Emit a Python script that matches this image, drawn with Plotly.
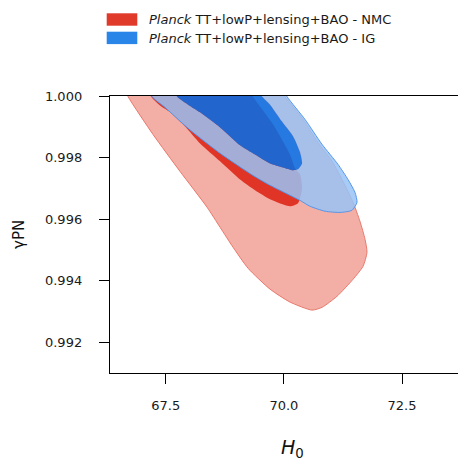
import plotly.graph_objects as go

# ---------------- data (H0, gamma_PN) contour outlines ----------------
nmc_2sig_h0 = [66.533, 66.702, 67.231, 67.803, 68.374, 68.649, 68.924, 69.241, 69.707, 70.130,
               70.596, 70.807, 71.125, 71.463, 71.675, 71.759, 71.717, 71.611, 71.463, 71.251,
               71.019, 70.722, 70.405, 70.024, 69.834]
nmc_2sig_g = [1.00054, 0.99998, 0.99875, 0.99755, 0.99639, 0.99574, 0.99509, 0.99441, 0.99373, 0.99331,
              0.99305, 0.99314, 0.99350, 0.99405, 0.99447, 0.99493, 0.99535, 0.99593, 0.99655, 0.99723,
              0.99788, 0.99849, 0.99924, 0.99998, 1.00054]

nmc_1sig_h0 = [67.062, 67.189, 67.379, 67.591, 67.908, 68.226, 68.649, 69.072, 69.389, 69.707,
               70.130, 70.299, 70.384, 70.342, 70.236, 70.130, 69.770, 69.347, 69.178]
nmc_1sig_g = [1.00054, 0.99998, 0.99969, 0.99947, 0.99901, 0.99846, 0.99788, 0.99729, 0.99694, 0.99665,
              0.99642, 0.99652, 0.99700, 0.99746, 0.99765, 0.99810, 0.99908, 0.99998, 1.00054]

ig_2sig_h0 = [67.062, 67.210, 67.485, 67.951, 68.649, 69.347, 69.707, 70.342, 70.553,
              70.871, 71.188, 71.442, 71.548, 71.505, 71.357, 71.146, 70.807, 70.447, 70.067, 69.876]
ig_2sig_g = [1.00054, 0.99998, 0.99963, 0.99898, 0.99814, 0.99742, 0.99710, 0.99661, 0.99642,
             0.99626, 0.99622, 0.99629, 0.99655, 0.99687, 0.99729, 0.99778, 0.99843, 0.99924, 0.99998, 1.00054]

ig_1sig_h0 = [67.591, 67.739, 67.972, 68.226, 68.649, 69.072, 69.389, 69.707, 69.982, 70.194,
              70.299, 70.384, 70.342, 70.194, 69.961, 69.707, 69.538, 69.326]
ig_1sig_g = [1.00054, 0.99998, 0.99972, 0.99947, 0.99898, 0.99840, 0.99810, 0.99781, 0.99768, 0.99759,
             0.99762, 0.99781, 0.99817, 0.99869, 0.99917, 0.99972, 0.99998, 1.00054]

x_ticks = [67.5, 70.0, 72.5]
x_ticktext = ["67.5", "70.0", "72.5"]
y_ticks = [0.992, 0.994, 0.996, 0.998, 1.000]
y_ticktext = ["0.992", "0.994", "0.996", "0.998", "1.000"]

legend_labels = ["<i>Planck</i> TT+lowP+lensing+BAO - NMC",
                 "<i>Planck</i> TT+lowP+lensing+BAO - IG"]
legend_colors = ["#e03a2a", "#2a85e8"]

# ---------------- figure ----------------
OFF = 8                      # page body margin offset
PAGE_W, PAGE_H = 466, 462
W, H = PAGE_W - OFF, PAGE_H - OFF
L, R, T, B = 110, 466, 96, 373   # plot area in page pixels
FONT = "DejaVu Sans"
SMOOTH = 0.6


def px(x):
    return (x - L) / (R - L)


def py(y):
    return (B - y) / (B - T)


fig = go.Figure()

fig.add_trace(go.Scatter(x=nmc_2sig_h0, y=nmc_2sig_g, mode="lines", fill="toself",
                         fillcolor="#f3aea6", line=dict(color="#e8796c", width=1, shape="spline", smoothing=SMOOTH),
                         hoverinfo="skip", showlegend=False))
fig.add_trace(go.Scatter(x=nmc_1sig_h0, y=nmc_1sig_g, mode="lines", fill="toself",
                         fillcolor="#e03426", line=dict(color="rgba(0,0,0,0)", width=0, shape="spline", smoothing=SMOOTH),
                         hoverinfo="skip", showlegend=False))
band_x = ig_2sig_h0 + ig_1sig_h0[::-1]
band_y = ig_2sig_g + ig_1sig_g[::-1]
fig.add_trace(go.Scatter(x=band_x, y=band_y, mode="lines", fill="toself",
                         fillcolor="rgba(152,195,246,0.85)",
                         line=dict(color="rgba(0,0,0,0)", width=0, shape="spline", smoothing=SMOOTH),
                         hoverinfo="skip", showlegend=False))
fig.add_trace(go.Scatter(x=ig_1sig_h0, y=ig_1sig_g, mode="lines", fill="toself",
                         fillcolor="rgba(0,112,235,0.85)",
                         line=dict(color="rgba(0,0,0,0)", width=0, shape="spline", smoothing=SMOOTH),
                         hoverinfo="skip", showlegend=False))
fig.add_trace(go.Scatter(x=ig_2sig_h0, y=ig_2sig_g, mode="lines",
                         line=dict(color="rgba(80,148,232,0.95)", width=1, shape="spline", smoothing=SMOOTH),
                         hoverinfo="skip", showlegend=False))

shapes = []
annotations = []
patch_tops = [13.3, 31.7]
for lab, col, top in zip(legend_labels, legend_colors, patch_tops):
    shapes.append(dict(type="rect", xref="paper", yref="paper",
                       x0=px(106.7), x1=px(137.3), y0=py(top + 12.4), y1=py(top),
                       fillcolor=col, line=dict(width=0)))
    annotations.append(dict(text=lab, xref="paper", yref="paper", x=px(147), y=py(top + 6.4),
                            xanchor="left", yanchor="middle", showarrow=False,
                            font=dict(family=FONT, size=13, color="#1a1a1a")))

annotations.append(dict(text="<i>H</i><sub>0</sub>", xref="paper", yref="paper",
                        x=px(292), y=py(448), xanchor="center", yanchor="middle", showarrow=False,
                        font=dict(family=FONT, size=19, color="#111111")))
annotations.append(dict(text="γPN", xref="paper", yref="paper", textangle=-90,
                        x=px(19), y=py(235), xanchor="center", yanchor="middle", showarrow=False,
                        font=dict(family=FONT, size=15, color="#111111")))

fig.update_layout(
    width=W, height=H,
    margin=dict(l=L - OFF, r=PAGE_W - R, t=T - OFF, b=PAGE_H - B, pad=0),
    paper_bgcolor="white", plot_bgcolor="white",
    showlegend=False,
    shapes=shapes, annotations=annotations,
    font=dict(family=FONT, size=13, color="#1a1a1a"),
)
fig.update_xaxes(range=[66.32, 73.854], tickvals=x_ticks, ticktext=x_ticktext,
                 ticks="outside", ticklen=10, tickwidth=1.2, tickcolor="black",
                 showline=True, linecolor="black", linewidth=1.4, mirror=True,
                 showgrid=False, zeroline=False, ticklabelstandoff=10,
                 tickfont=dict(family=FONT, size=13, color="#1a1a1a"))
fig.update_yaxes(range=[0.991008, 1.0], tickvals=y_ticks, ticktext=y_ticktext,
                 ticks="outside", ticklen=10, tickwidth=1.2, tickcolor="black",
                 showline=True, linecolor="black", linewidth=1.4, mirror=False,
                 showgrid=False, zeroline=False, ticklabelstandoff=14,
                 tickfont=dict(family=FONT, size=13, color="#1a1a1a"))

fig.write_html("out.html")
